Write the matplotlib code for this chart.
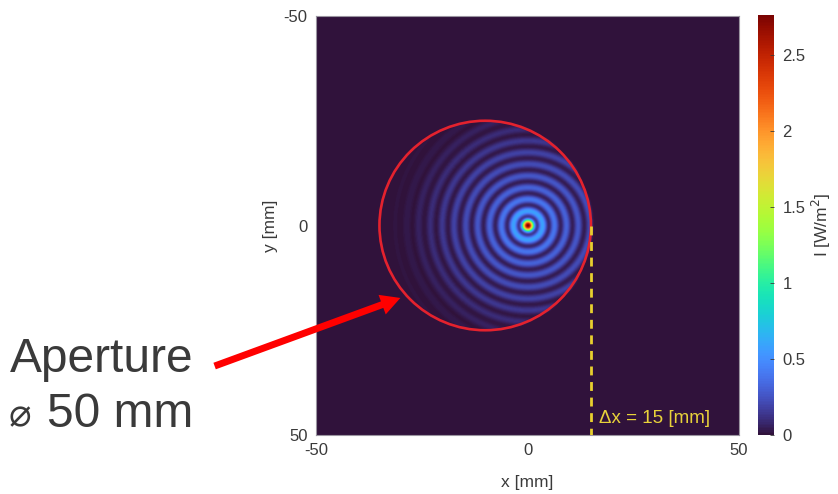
import numpy as np
import matplotlib
matplotlib.use("Agg")
import matplotlib.pyplot as plt
from matplotlib.patches import Circle, FancyArrowPatch

# ---- beam and aperture parameters (mm, W/m^2) ----
PEAK_INTENSITY = 2.76
RING_PERIOD = 2.8          # spacing of the bright rings
BEAM_RADIUS = 24.5         # radius where the ring envelope rolls off
APERTURE_DIAMETER = 50.0
APERTURE_CENTER = (-10.0, 0.0)
DELTA_X = 15.0
X_LIMITS = [-50, 50]
Y_LIMITS = [-50, 50]
X_TICKS = [-50, 0, 50]
Y_TICKS = [-50, 0, 50]
CBAR_TICKS = [0, 0.5, 1, 1.5, 2, 2.5]

plt.rcParams["font.family"] = ["Liberation Sans", "DejaVu Sans"]
plt.rcParams["axes.unicode_minus"] = False
TXT = "#3a3a3a"

W, H, DPI = 838, 494, 100
fig = plt.figure(figsize=(W / DPI, H / DPI), dpi=DPI)


def fx(px):
    return px / W


def fy(py):
    return 1 - py / H


# main axes and colorbar axes (figure fractions)
ax = fig.add_axes([fx(316), fy(435), fx(739) - fx(316), fy(16) - fy(435)])
cax = fig.add_axes([fx(758), fy(435), fx(774) - fx(758), fy(15) - fy(435)])


def bessel_j0(x, n=160):
    """J0 via its integral representation (midpoint rule)."""
    theta = (np.arange(n) + 0.5) * np.pi / n
    acc = np.zeros_like(x)
    for t in theta:
        acc += np.cos(x * np.sin(t))
    return acc / n


def smooth(img, sigma_px):
    """Separable Gaussian smoothing."""
    half = int(3 * sigma_px) + 1
    t = np.arange(-half, half + 1)
    g = np.exp(-0.5 * (t / sigma_px) ** 2)
    g /= g.sum()
    out = np.apply_along_axis(lambda v: np.convolve(v, g, mode="same"), 0, img)
    out = np.apply_along_axis(lambda v: np.convolve(v, g, mode="same"), 1, out)
    return out


# intensity field of the ring beam cut by the offset aperture
n = 600
xs = np.linspace(X_LIMITS[0], X_LIMITS[1], n)
ys = np.linspace(Y_LIMITS[0], Y_LIMITS[1], n)
X, Y = np.meshgrid(xs, ys)
R = np.hypot(X, Y)
k = np.pi / RING_PERIOD
envelope = (1 + 0.10 * R) * np.exp(-(R / BEAM_RADIUS) ** 4)
field = bessel_j0(k * R) ** 2 * envelope
inside = np.hypot(X - APERTURE_CENTER[0], Y - APERTURE_CENTER[1]) <= APERTURE_DIAMETER / 2
field = np.where(inside, field, 0.0)
field = smooth(field, 2.2)
field = PEAK_INTENSITY * field / field.max()

im = ax.imshow(field, cmap="turbo", vmin=0, vmax=PEAK_INTENSITY,
               extent=(X_LIMITS[0], X_LIMITS[1], Y_LIMITS[1], Y_LIMITS[0]),
               origin="upper", interpolation="bilinear", aspect="auto")

ax.set_xlim(X_LIMITS)
ax.set_ylim(Y_LIMITS[1], Y_LIMITS[0])
ax.set_xticks(X_TICKS)
ax.set_yticks(Y_TICKS)
ax.tick_params(length=0, labelsize=12, colors=TXT, pad=6)
ax.set_xlabel("x [mm]", fontsize=12.5, color=TXT, labelpad=12)
ax.set_ylabel("y [mm]", fontsize=12.5, color=TXT, labelpad=4)
for s in ax.spines.values():
    s.set_color("#9a94a0")
    s.set_linewidth(0.8)

# aperture outline
ax.add_patch(Circle(APERTURE_CENTER, APERTURE_DIAMETER / 2, fill=False,
                    edgecolor="#e4222e", linewidth=1.9, zorder=3))

# shift marker
edge_x = APERTURE_CENTER[0] + APERTURE_DIAMETER / 2
ax.plot([edge_x, edge_x], [0, Y_LIMITS[1]], color="#e8cf2e", linewidth=2.0,
        dashes=(3.2, 2.4), zorder=3)
ax.text(edge_x + 2.0, 47.2, f"\u0394x = {DELTA_X:g} [mm]", color="#e8d23a",
        fontsize=13.5, ha="left", va="baseline", zorder=4)

# colorbar
cb = fig.colorbar(im, cax=cax, ticks=CBAR_TICKS)
cb.outline.set_visible(False)
cb.ax.tick_params(length=3, width=0.6, direction="in", colors=TXT,
                  labelsize=12, pad=6)
cb.ax.set_yticklabels([f"{t:g}" for t in CBAR_TICKS])
cb.set_label("I [W/m$^2$]", fontsize=12.5, color=TXT, labelpad=3)

# annotation
fig.text(fx(10), fy(372), "Aperture", fontsize=34.5, color=TXT,
         ha="left", va="baseline")
fig.text(fx(9), fy(426), "\u2300", fontsize=27, color=TXT,
         ha="left", va="baseline", family=["DejaVu Sans"])
fig.text(fx(47), fy(427), "50 mm", fontsize=34.5, color=TXT,
         ha="left", va="baseline")

arrow = FancyArrowPatch((fx(212), fy(367)), (fx(403), fy(297)),
                        transform=fig.transFigure,
                        arrowstyle="simple,head_width=15,head_length=14,tail_width=5",
                        color="#ff0000", linewidth=0, zorder=10)
fig.add_artist(arrow)

fig.savefig("out.png", dpi=DPI)
